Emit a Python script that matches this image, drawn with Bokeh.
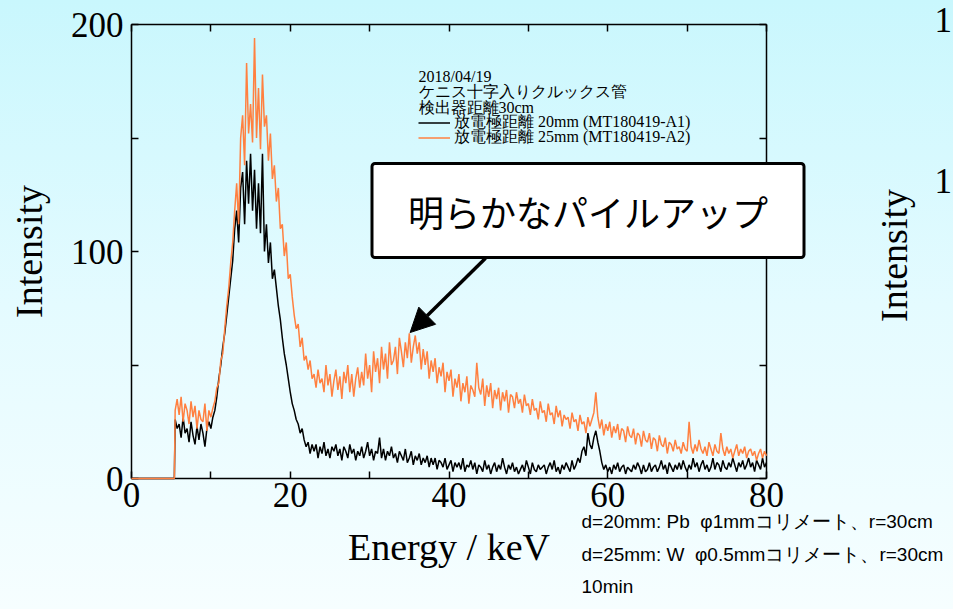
import math
from bokeh.plotting import figure
from bokeh.models import (Label, Arrow, NormalHead, FixedTicker, LinearAxis, Legend,
                          LegendItem, Range1d, CustomJSTickFormatter)
from bokeh.embed import file_html
from bokeh.resources import INLINE

# ---------------- data ----------------
energy_start = 5.5      # keV, first non-zero channel
energy_step = 0.25      # keV per point

black_20mm = [
    26, 22,
    24, 18, 27, 20,   22, 16, 25, 19,   15, 23, 17, 24,   20, 14, 22, 25,      # 6-9
    22, 27, 30, 36,   44, 50, 58, 64,   72, 80, 88, 96,   110, 118, 104, 128,  # 10-13
    135, 112, 140, 121, 143, 118, 136, 110, 130, 108, 143, 100, 112, 95, 104, 88,  # 14-17
    92, 84, 76, 70,   62, 55, 50, 44,   38, 33, 30, 26,   24, 20, 22, 17,      # 18-21
    14, 16, 11, 15,   12, 15, 9, 14,    11, 16, 10, 13,   9, 14, 12, 15,       # 22-25
    10, 13, 8, 14,    12, 9, 15, 11,    13, 8, 12, 10,    14, 9, 12, 16,       # 26-29
    10, 13, 8, 12,    11, 18, 9, 13,    8, 12, 10, 14,    9, 11, 7, 12,        # 30-33
    10, 8, 13, 7,     9, 12, 6, 10,     8, 11, 6, 9,      7, 10, 5, 9,         # 34-37
    6, 9, 4, 8,       7, 5, 9, 4,       6, 8, 3, 7,       5, 7, 4, 9,          # 38-41
    3, 6, 5, 8,       4, 7, 2, 6,       5, 3, 8, 4,       6, 2, 5, 7,          # 42-45
    3, 6, 4, 9,       5, 2, 6, 4,       7, 3, 5, 2,       4, 6, 3, 8,          # 46-49
    5, 2, 7, 4,       3, 6, 4, 5,       6, 2, 5, 7,       4, 8, 3, 5,          # 50-53
    2, 6, 4, 7,       5, 3, 8, 4,       6, 9, 7, 12,      14, 10, 20, 15,      # 54-57
    13, 18, 21, 16,   12, 7, 4, 6,      3, 5, 2, 6,       4, 7, 3, 5,          # 58-61
    6, 2, 5, 4,       3, 6, 4, 7,       5, 2, 6, 3,       4, 7, 3, 5,          # 62-65
    6, 3, 5, 8,       4, 6, 2, 7,       5, 3, 6, 4,       7, 4, 8, 5,          # 66-69
    3, 6, 4, 9,       5, 7, 3, 6,       8, 4, 6, 3,       5, 9, 4, 7,          # 70-73
    6, 3, 8, 5,       4, 7, 5, 9,       6, 3, 7, 5,       8, 4, 6, 9,          # 74-77
    5, 7, 3, 8,       6, 4, 9, 5,                                              # 78-79
    7,                                                                         # 80
]

orange_25mm = [
    30, 35,
    28, 36, 25, 33,   30, 24, 34, 27,   32, 22, 30, 26,   25, 33, 21, 30,      # 6-9
    27, 31, 34, 40,   42, 52, 55, 66,   76, 84, 95, 104,  118, 130, 112, 150,  # 10-13
    160, 138, 183, 152, 165, 148, 194, 150, 172, 145, 178, 155, 160, 140, 152, 132,  # 14-17
    138, 122, 128, 110, 112, 98, 104, 88, 90, 80, 72, 66,  68, 58, 62, 52,     # 18-21
    54, 48, 52, 44,   46, 40, 48, 42,   44, 38, 50, 41,   46, 36, 43, 48,      # 22-25
    39, 45, 35, 47,   42, 50, 38, 46,   36, 44, 49, 40,   47, 41, 55, 44,      # 26-29
    50, 38, 56, 47,   53, 42, 58, 48,   55, 44, 60, 50,   52, 58, 46, 62,      # 30-33
    56, 49, 60, 53,   64, 51, 58, 63,   55, 60, 48, 57,   50, 56, 44, 52,      # 34-37
    47, 53, 42, 49,   45, 51, 38, 47,   43, 48, 36, 44,   40, 46, 34, 42,      # 38-41
    38, 45, 33, 41,   39, 36, 51, 40,   37, 44, 32, 41,   36, 42, 31, 39,      # 42-45
    35, 40, 30, 38,   34, 39, 29, 37,   36, 31, 38, 33,   35, 29, 37, 32,      # 46-49
    33, 28, 35, 30,   31, 26, 34, 29,   30, 25, 33, 28,   29, 24, 32, 27,      # 50-53
    30, 23, 28, 26,   27, 22, 29, 25,   26, 21, 28, 24,   25, 20, 27, 23,      # 54-57
    26, 29, 38, 27,   22, 26, 19, 24,   21, 25, 18, 23,   20, 24, 17, 22,      # 58-61
    21, 16, 23, 19,   18, 22, 15, 20,   19, 14, 21, 17,   16, 20, 13, 18,      # 62-65
    17, 12, 19, 15,   14, 18, 11, 16,   15, 12, 17, 13,   14, 11, 16, 13,      # 66-69
    12, 25, 14, 11,   15, 12, 17, 13,   11, 14, 10, 16,   13, 10, 15, 12,      # 70-73
    11, 20, 13, 10,   14, 11, 13, 9,    12, 15, 10, 13,   11, 14, 9, 12,       # 74-77
    13, 10, 12, 8,    11, 13, 9, 12,                                           # 78-79
    10,                                                                        # 80
]

x_major_ticks = [0, 20, 40, 60, 80]
x_minor_ticks = [10, 30, 50, 70]
y_major_ticks = [0, 100, 200]
y_minor_ticks = [50, 150]
x_limits = (0, 80)
y_limits = (0, 200)

series_labels = ["放電極距離 20mm (MT180419-A1)", "放電極距離 25mm (MT180419-A2)"]
header_lines = ["2018/04/19", "ケニス十字入りクルックス管", "検出器距離30cm"]
callout_text = "明らかなパイルアップ"
note_lines = ["d=20mm: Pb\u00a0\u00a0φ1mmコリメート、r=30cm",
              "d=25mm: W\u00a0\u00a0φ0.5mmコリメート、r=30cm",
              "10min"]


def with_energies(vals):
    xs = [0.0, 5.4] + [energy_start + energy_step * i for i in range(len(vals))]
    ys = [0, 0] + list(vals)
    return xs, ys


# ---------------- layout constants (pixels) ----------------
W, H = 953, 609
PX_LEFT, PX_RIGHT, PX_TOP, PX_BOTTOM = 131, 766, 24, 478   # where the axes box sits
sx = (PX_RIGHT - PX_LEFT) / (x_limits[1] - x_limits[0])
sy = (PX_BOTTOM - PX_TOP) / (y_limits[1] - y_limits[0])
x_start = x_limits[0] - PX_LEFT / sx
y_start = y_limits[0] - (H - PX_BOTTOM) / sy

SERIF = "Liberation Serif"
BLACK = "#000000"
ORANGE = "#ff8040"

p = figure(width=W, height=H,
           x_range=Range1d(x_start, x_start + W / sx),
           y_range=Range1d(y_start, y_start + H / sy),
           x_axis_type=None, y_axis_type=None,
           output_backend="svg", toolbar_location=None, min_border=0)
p.styles = {"background": "linear-gradient(180deg, #c9f7fd 0%, #e4fbff 50%, #f6feff 100%)"}
p.background_fill_alpha = 0
p.border_fill_alpha = 0
p.outline_line_color = None
p.grid.visible = False

xb, yb = with_energies(black_20mm)
xo, yo = with_energies(orange_25mm)
r_black = p.line(xb, yb, line_color=BLACK, line_width=1.5, level="annotation")
r_orange = p.line(xo, yo, line_color=ORANGE, line_width=1.5, level="annotation")

xt = FixedTicker(ticks=x_major_ticks, minor_ticks=x_minor_ticks)
yt = FixedTicker(ticks=y_major_ticks, minor_ticks=y_minor_ticks)


def make_axis(ticker, loc, bounds, labels=True):
    ax = LinearAxis(ticker=ticker, fixed_location=loc, bounds=bounds)
    ax.axis_line_color = "black"
    ax.axis_line_width = 1.5
    ax.major_tick_in = 7
    ax.major_tick_out = 0
    ax.minor_tick_in = 7
    ax.minor_tick_out = 0
    ax.major_tick_line_width = 1.5
    ax.minor_tick_line_width = 1.5
    ax.major_label_text_font = SERIF
    ax.major_label_text_font_size = "35px"
    ax.major_label_text_color = "black"
    ax.axis_label_text_font = SERIF
    ax.axis_label_text_font_size = "38px"
    ax.axis_label_text_font_style = "normal"
    ax.axis_label_text_color = "black"
    if not labels:
        ax.formatter = CustomJSTickFormatter(code="return ''")
    return ax


bottom_ax = make_axis(xt, y_limits[0], x_limits)
bottom_ax.axis_label = "Energy / keV"
bottom_ax.major_label_standoff = 4
bottom_ax.axis_label_standoff = 16
left_ax = make_axis(yt, x_limits[0], y_limits)
left_ax.axis_label = "Intensity"
left_ax.major_label_standoff = 8
left_ax.axis_label_standoff = 18
top_ax = make_axis(xt, y_limits[1], x_limits, labels=False)
right_ax = make_axis(yt, x_limits[1], y_limits, labels=False)
p.add_layout(bottom_ax, "below")
p.add_layout(left_ax, "left")
p.add_layout(top_ax, "above")
p.add_layout(right_ax, "right")

# legend header (screen units: from bottom-left of the canvas)
for line, py in zip(header_lines, (75.5, 91.0, 107.0)):
    p.add_layout(Label(x=418, y=H - py, x_units="screen", y_units="screen", text=line,
                       text_font=SERIF, text_font_size="16px", text_baseline="middle",
                       text_color="black"))

# one legend per series so that the rows sit 15 px apart, as in the picture
for label, rend, row_bottom in zip(series_labels, (r_black, r_orange), (132.5, 148.0)):
    leg = Legend(items=[LegendItem(label=label, renderers=[rend])],
                 location=(418, H - row_bottom), orientation="vertical",
                 label_text_font=SERIF, label_text_font_size="16px",
                 label_text_color="black",
                 label_height=15, glyph_height=15, glyph_width=32, spacing=0,
                 padding=0, margin=0, label_standoff=4,
                 background_fill_alpha=0, border_line_alpha=0)
    p.add_layout(leg)

# callout
p.add_layout(Arrow(end=NormalHead(size=24, fill_color="black", line_color="black", line_width=1),
                   x_start=44.6, y_start=97.0, x_end=35.1, y_end=64.3,
                   line_width=3.5, line_color="black"))
p.add_layout(Label(x=587.5, y=H - 210, x_units="screen", y_units="screen",
                   text=callout_text, text_font="Noto Sans CJK JP",
                   text_font_size="36px", text_align="center", text_baseline="middle",
                   text_color="black", background_fill_color="white",
                   border_line_color="black", border_line_width=3, border_radius=3,
                   padding=dict(left=36, right=36, top=21, bottom=21)))

# notes below right
for line, py in zip(note_lines, (521, 554, 586)):
    p.add_layout(Label(x=581, y=H - py, x_units="screen", y_units="screen", text=line,
                       text_font="Liberation Sans", text_font_size="19px",
                       text_baseline="middle", text_color="black"))

# neighbouring chart fragment at right edge
p.add_layout(Label(x=893, y=H - 255, x_units="screen", y_units="screen", text="Intensity",
                   text_font=SERIF, text_font_size="38px", text_align="center",
                   text_baseline="middle", angle=math.pi / 2, text_color="black"))
for py in (19, 180):
    p.add_layout(Label(x=934, y=H - py, x_units="screen", y_units="screen", text="1",
                       text_font=SERIF, text_font_size="35px", text_baseline="middle",
                       text_color="black"))

open("out.html", "w").write(file_html(p, INLINE))
